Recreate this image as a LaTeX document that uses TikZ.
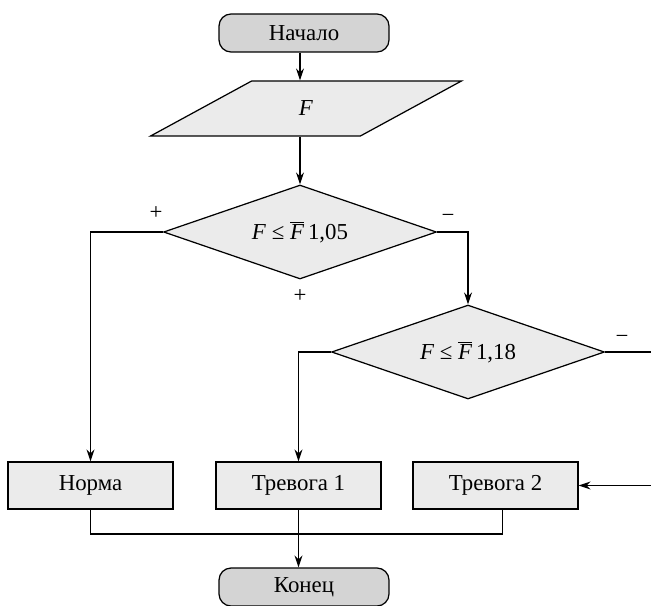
\documentclass[tikz,border=0pt]{standalone}
\usepackage{fontspec}
\setmainfont{Liberation Serif}
\usetikzlibrary{shapes.geometric,arrows.meta}
\definecolor{boxgray}{gray}{0.92}
\definecolor{termgray}{gray}{0.83}
\begin{document}
\begin{tikzpicture}[x=0.02cm,y=-0.02cm,line width=0.7pt,
	font=\fontsize{13}{15}\selectfont,
	term/.style={draw,fill=termgray,rounded corners=0.24cm,minimum width=3.4cm,minimum height=0.76cm},
	blk/.style={draw,fill=boxgray,minimum width=3.3cm,minimum height=0.94cm},
	cond/.style={draw,fill=boxgray,diamond,aspect=2.9,minimum width=5.46cm,minimum height=1.88cm,inner sep=0pt},
	io/.style={draw,fill=boxgray,trapezium,trapezium left angle=48,trapezium right angle=132,
		trapezium stretches=true,minimum width=6.24cm,minimum height=1.1cm},
	>={Stealth[length=2.4mm,width=1.6mm]}]
	\useasboundingbox (0,0) rectangle (651,605);
	\node[term] at (304,33) (start) {Начало};
	\node[io] at (306,108.5) (inp) {\textit{F}};
	\node[cond] at (300,232) (d1) {\textit{F} ≤ $\overline{\mbox{\textit{F}}}$\,1,05};
	\node[cond] at (468,352) (d2) {\textit{F} ≤ $\overline{\mbox{\textit{F}}}$\,1,18};
	\node[blk] at (90.5,485.5) (norm) {Норма};
	\node[blk] at (298.5,485.5) (al1) {Тревога 1};
	\node[blk] at (495.5,485.5) (al2) {Тревога 2};
	\node[term] at (304,587) (fin) {Конец};
	\coordinate (r1) at (651,352);
	\coordinate (r2) at (651,485.5);
	\coordinate (bus) at (298.5,534);
	\draw[->] (start.south -| d1.north) -- (d1.north |- inp.north);
	\draw[->] (inp.south -| d1.north) -- (d1.north);
	\draw[->] (d1.west) -| (norm.north);
	\draw[->] (d1.east) -| (d2.north);
	\draw[->] (d2.west) -| (al1.north);
	\draw (d2.east) -- (r1);
	\draw[->] (r2) -- (al2.east);
	\draw (norm.south) |- (bus) -| ([xshift=0.14cm]al2.south);
	\draw[->] (al1.south) -- (al1.south |- fin.north);
	% branch signs
	\node at (156,213) (p1) {+};
	\node at (448,218) (m1) {−};
	\node at (300,296) (p2) {+};
	\node at (622,339) (m2) {−};
\end{tikzpicture}
\end{document}
